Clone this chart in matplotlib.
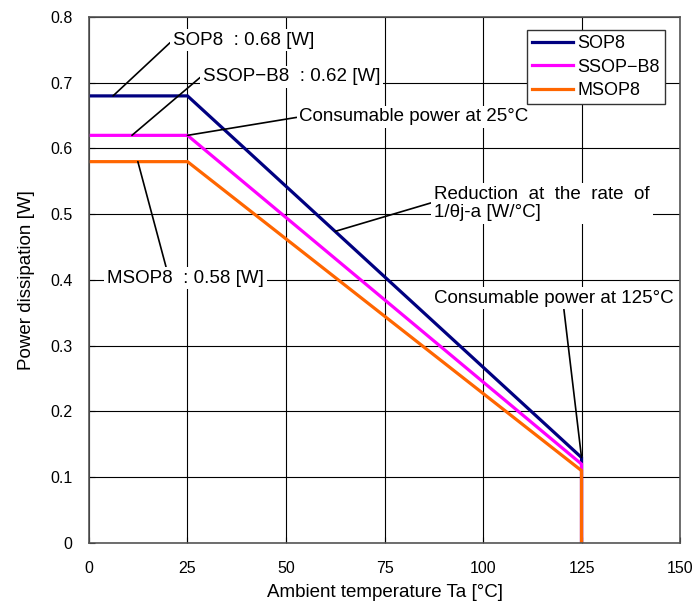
import matplotlib.pyplot as plt

plt.rcParams['font.family'] = ['Liberation Sans', 'DejaVu Sans']

temps = [0, 25, 125, 125]
series = ['SOP8', 'SSOP\u2212B8', 'MSOP8']
sop8 = [0.68, 0.68, 0.13, 0]
ssop_b8 = [0.62, 0.62, 0.12, 0]
msop8 = [0.58, 0.58, 0.11, 0]
colores = ['#000080', '#FF00FF', '#FF6600']

fig = plt.figure(figsize=(6.92, 6.05), dpi=100)
ax = fig.add_axes([0.1286, 0.1025, 0.8541, 0.8694])

for nombre, valores, color in zip(series, [sop8, ssop_b8, msop8], colores):
    ax.plot(temps, valores, color=color, lw=2.3, label=nombre, solid_joinstyle='miter')

ax.set_xlim(0, 150)
ax.set_ylim(0, 0.8)
ax.set_xticks(range(0, 151, 25))
ax.set_yticks([i / 10 for i in range(9)])
ax.set_yticklabels(['0'] + [f'{i/10:.1f}' for i in range(1, 9)])
ax.grid(True, color='black', lw=0.8)
ax.set_axisbelow(True)
ax.tick_params(direction='in', length=4, labelsize=11.5)
ax.tick_params(axis='y', pad=12)
ax.tick_params(axis='x', pad=13)
for s in ax.spines.values():
    s.set_color('#555555')
    s.set_linewidth(1.2)

ax.set_xlabel('Ambient temperature Ta [°C]', fontsize=13.5, labelpad=6)
ax.set_ylabel('Power dissipation [W]', fontsize=13.5, labelpad=11)

caja = dict(boxstyle='square,pad=0.15', fc='white', ec='none')

def flecha(rx, ry):
    return dict(arrowstyle='-', color='black', lw=1.2, shrinkA=0, shrinkB=0,
                relpos=(rx, ry))

fs = 13.5
ax.annotate('SOP8  : 0.68 [W]', xy=(6.1, 0.68), xytext=(21.3, 0.765),
            fontsize=fs, va='center', ha='left', bbox=caja, arrowprops=flecha(0, 0.5))
ax.annotate('SSOP\u2212B8  : 0.62 [W]', xy=(10.9, 0.62), xytext=(28.9, 0.709),
            fontsize=fs, va='center', ha='left', bbox=caja, arrowprops=flecha(0, 0.6))
ax.annotate('Consumable power at 25°C', xy=(25, 0.62), xytext=(53.4, 0.648),
            fontsize=fs, va='center', ha='left', bbox=caja, arrowprops=flecha(0, 0.5))
ax.annotate('MSOP8  : 0.58 [W]', xy=(12.4, 0.58), xytext=(4.6, 0.403),
            fontsize=fs, va='center', ha='left', bbox=caja, arrowprops=flecha(0.38, 1))
ax.annotate('Reduction  at  the  rate  of\n1/θj-a [W/°C]', xy=(62.5, 0.474), xytext=(87.6, 0.516),
            fontsize=fs, va='center', ha='left', bbox=caja, arrowprops=flecha(0, 0.55),
            linespacing=1.1)
ax.annotate('Consumable power at 125°C', xy=(125, 0.13), xytext=(87.6, 0.3726),
            fontsize=fs, va='center', ha='left', bbox=caja, arrowprops=flecha(0.54, 0))

leg = ax.legend(loc='upper right', bbox_to_anchor=(0.9746, 0.9753), fontsize=13,
                frameon=True, fancybox=False, framealpha=1, edgecolor='#333333',
                handlelength=2.3, handletextpad=0.2, borderpad=0.3, labelspacing=0.35,
                borderaxespad=0)
leg.get_frame().set_linewidth(1.0)

fig.savefig('out.png', dpi=100)
